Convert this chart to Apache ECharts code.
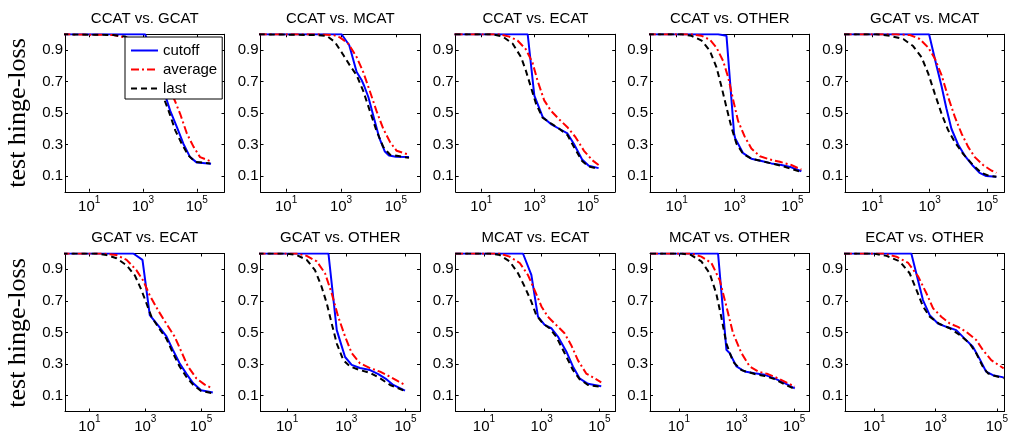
<!DOCTYPE html>
<html><head><meta charset="utf-8">
<script src="https://cdn.jsdelivr.net/npm/echarts@6/dist/echarts.min.js"></script>
<style>html,body{margin:0;padding:0;background:#fff}#c{width:1015px;height:438px}</style>
</head><body><div id="c"></div>
<script>
// ---------------- data ----------------
const panelTitles = ['CCAT vs. GCAT','CCAT vs. MCAT','CCAT vs. ECAT','CCAT vs. OTHER','GCAT vs. MCAT',
                     'GCAT vs. ECAT','GCAT vs. OTHER','MCAT vs. ECAT','MCAT vs. OTHER','ECAT vs. OTHER'];
const seriesNames = ['cutoff','average','last'];
const xTickValues = [10, 1000, 100000];
const yTickValues = [0.1, 0.3, 0.5, 0.7, 0.9];
const yAxisTitle = 'test hinge-loss';
// x-axis extents of each panel (number of examples)
const xRanges = [[1.26,1.07e6],[1.16,7.6e5],[1.1,1.05e6],[1.19,3.89e5],[1.114,4.07e5],
                 [1.33,6.9e5],[1.26,3.09e5],[1.05,3.5e5],[1,3.4e5],[1.086,1.78e5]];

// [examples, test hinge-loss]
const CCAT_GCAT_cutoff  = [[1,1],[1200,1],[2240,0.88],[3980,0.73],[7080,0.6],[10200,0.515],[18200,0.41],[31600,0.305],[56200,0.22],[100000,0.185],[339000,0.178]];
const CCAT_GCAT_average = [[1,1],[80,0.995],[219,0.98],[631,0.965],[1580,0.92],[3980,0.8],[7940,0.69],[13500,0.6],[24000,0.495],[42700,0.37],[75900,0.285],[132000,0.22],[363000,0.19]];
const CCAT_GCAT_last    = [[1,1],[79,0.995],[219,0.985],[631,0.93],[1580,0.8],[3160,0.68],[5750,0.6],[8910,0.515],[15800,0.39],[27500,0.305],[49000,0.23],[87100,0.19],[316000,0.18]];

const CCAT_MCAT_cutoff  = [[1,1],[1050,1],[2000,0.93],[3720,0.76],[5620,0.71],[7080,0.67],[10000,0.6],[15800,0.47],[25100,0.34],[39800,0.255],[56200,0.23],[100000,0.222],[302000,0.22]];
const CCAT_MCAT_average = [[1,1],[170,1],[525,0.995],[912,0.98],[1860,0.94],[3720,0.855],[6460,0.76],[11200,0.64],[19500,0.515],[34700,0.4],[61700,0.315],[107000,0.26],[302000,0.235]];
const CCAT_MCAT_last    = [[1,1],[129,0.995],[302,0.99],[603,0.95],[1200,0.87],[2140,0.8],[3720,0.74],[6460,0.64],[11200,0.515],[19500,0.39],[34700,0.285],[61700,0.235],[141000,0.225],[302000,0.215]];

const CCAT_ECAT_cutoff  = [[1,1],[550,1],[977,0.61],[2000,0.475],[4070,0.43],[8320,0.4],[17000,0.37],[29500,0.305],[60300,0.205],[107000,0.165],[251000,0.15]];
const CCAT_ECAT_average = [[1,1],[47.9,1],[112,0.985],[229,0.96],[468,0.905],[832,0.82],[1290,0.705],[2290,0.58],[4070,0.515],[8320,0.46],[17000,0.41],[34700,0.345],[70800,0.26],[145000,0.2],[251000,0.17]];
const CCAT_ECAT_last    = [[1,1],[26.9,1],[64.6,0.985],[151,0.94],[309,0.855],[468,0.77],[724,0.665],[1120,0.56],[2000,0.47],[4070,0.435],[8320,0.4],[17000,0.36],[29500,0.285],[60300,0.195],[107000,0.16],[251000,0.145]];

const CCAT_OTHER_cutoff  = [[1,1],[269,1],[525,0.99],[960,0.37],[1045,0.34],[1972,0.245],[3802,0.21],[8511,0.195],[18620,0.18],[41590,0.17],[91200,0.155],[203700,0.13]];
const CCAT_OTHER_average = [[1,1],[32.4,1],[72.4,0.99],[140,0.965],[237,0.915],[403,0.83],[603,0.725],[902,0.58],[1318,0.45],[2239,0.35],[3802,0.275],[7482,0.225],[16410,0.205],[36640,0.19],[91200,0.17],[203700,0.14]];
const CCAT_OTHER_last    = [[1,1],[14.8,1],[32.4,0.99],[72.4,0.96],[140,0.895],[237,0.79],[355,0.665],[525,0.535],[776,0.41],[1161,0.305],[1972,0.24],[3802,0.21],[8511,0.195],[18620,0.18],[41590,0.165],[91200,0.145],[203700,0.125]];

const GCAT_MCAT_cutoff  = [[1,1],[953,1],[1730,0.8],[2600,0.67],[3819,0.53],[5728,0.4],[9772,0.3],[16670,0.23],[32280,0.165],[55080,0.12],[93980,0.1],[211800,0.095]];
const GCAT_MCAT_average = [[1,1],[70.3,1],[205,0.995],[451,0.97],[893,0.915],[1524,0.845],[2600,0.74],[4426,0.6],[7551,0.475],[12880,0.37],[21980,0.285],[37500,0.22],[72780,0.17],[140900,0.135],[211800,0.12]];
const GCAT_MCAT_last    = [[1,1],[14.2,1],[41.2,0.99],[120,0.97],[264,0.925],[518,0.855],[893,0.75],[1524,0.62],[2600,0.495],[4426,0.39],[7551,0.315],[14660,0.24],[32280,0.17],[63970,0.12],[124200,0.1],[211800,0.095]];

const GCAT_ECAT_cutoff  = [[1,1],[372,1],[794,0.96],[1450,0.61],[2880,0.545],[5750,0.475],[9770,0.39],[17000,0.305],[29500,0.24],[51300,0.18],[100000,0.135],[263000,0.12]];
const GCAT_ECAT_average = [[1,1],[30.9,1],[93.3,0.99],[214,0.96],[479,0.895],[832,0.83],[1450,0.735],[2880,0.64],[5750,0.555],[11200,0.475],[19500,0.38],[33900,0.285],[67600,0.21],[135000,0.17],[263000,0.145]];
const GCAT_ECAT_last    = [[1,1],[18.2,1],[40.7,0.99],[93.3,0.97],[214,0.925],[427,0.86],[724,0.77],[1100,0.685],[1660,0.6],[2880,0.535],[5750,0.46],[9770,0.37],[17000,0.285],[29500,0.22],[51300,0.17],[100000,0.13],[263000,0.115]];

const GCAT_OTHER_cutoff  = [[1,1],[249,1],[476,0.515],[608,0.45],[908,0.345],[1517,0.295],[2897,0.275],[6324,0.262],[12080,0.237],[23070,0.203],[38550,0.168],[96160,0.132]];
const GCAT_OTHER_average = [[1,1],[20.9,1],[45.8,0.985],[100,0.95],[191,0.875],[318,0.75],[532,0.6],[908,0.475],[1517,0.37],[2897,0.305],[6324,0.275],[13800,0.252],[30130,0.22],[57540,0.19],[96160,0.168]];
const GCAT_OTHER_last    = [[1,1],[9.6,1],[20.9,0.99],[45.8,0.96],[87.3,0.895],[146,0.79],[218,0.685],[318,0.56],[476,0.43],[794,0.325],[1327,0.285],[2897,0.262],[6324,0.245],[13800,0.21],[30130,0.168],[96160,0.13]];

const MCAT_ECAT_cutoff  = [[1,1],[224,1],[437,0.865],[741,0.6],[1260,0.548],[2140,0.527],[3630,0.474],[7080,0.38],[12000,0.285],[20400,0.21],[39800,0.175],[115000,0.16]];
const MCAT_ECAT_average = [[1,1],[35.5,1],[77.6,0.98],[174,0.94],[331,0.865],[562,0.77],[977,0.665],[1620,0.6],[3160,0.548],[6170,0.495],[10500,0.42],[17800,0.325],[34700,0.24],[67600,0.21],[115000,0.185]];
const MCAT_ECAT_last    = [[1,1],[15.8,1],[35.5,0.99],[77.6,0.95],[151,0.875],[257,0.79],[437,0.695],[646,0.61],[1100,0.557],[1860,0.527],[3160,0.474],[6170,0.37],[12000,0.263],[20400,0.205],[39800,0.168],[115000,0.155]];

const MCAT_OTHER_cutoff  = [[1,1],[229,1],[447,0.39],[575,0.37],[1000,0.285],[1910,0.253],[4270,0.242],[9550,0.232],[20900,0.21],[46800,0.18],[105000,0.147]];
const MCAT_OTHER_average = [[1,1],[26.9,1],[60.3,0.98],[135,0.94],[263,0.83],[447,0.665],[759,0.495],[1480,0.37],[2880,0.285],[5620,0.253],[12300,0.237],[27500,0.21],[61700,0.178],[105000,0.158]];
const MCAT_OTHER_last    = [[1,1],[12.3,1],[26.9,0.99],[60.3,0.95],[117,0.875],[200,0.745],[295,0.6],[447,0.43],[759,0.315],[1480,0.262],[4270,0.237],[9550,0.225],[20900,0.205],[46800,0.172],[105000,0.142]];

const ECAT_OTHER_cutoff  = [[1,1],[160,1],[384,0.705],[638,0.61],[1183,0.557],[2239,0.536],[4710,0.515],[8710,0.463],[16480,0.41],[26850,0.336],[44770,0.252],[74470,0.23],[167100,0.216]];
const ECAT_OTHER_average = [[1,1],[19.2,1],[52,0.98],[127,0.94],[267,0.855],[494,0.75],[824,0.653],[1524,0.6],[2884,0.557],[5346,0.536],[9908,0.505],[21280,0.452],[34670,0.39],[65610,0.325],[167100,0.273]];
const ECAT_OTHER_last    = [[1,1],[9.1,1],[24.7,0.985],[67.1,0.95],[141,0.875],[235,0.77],[384,0.665],[638,0.6],[1343,0.554],[2884,0.527],[6067,0.485],[12760,0.432],[21280,0.368],[34670,0.284],[50820,0.242],[82790,0.226],[167100,0.21]];

const panelData = [
  [CCAT_GCAT_cutoff, CCAT_GCAT_average, CCAT_GCAT_last],
  [CCAT_MCAT_cutoff, CCAT_MCAT_average, CCAT_MCAT_last],
  [CCAT_ECAT_cutoff, CCAT_ECAT_average, CCAT_ECAT_last],
  [CCAT_OTHER_cutoff, CCAT_OTHER_average, CCAT_OTHER_last],
  [GCAT_MCAT_cutoff, GCAT_MCAT_average, GCAT_MCAT_last],
  [GCAT_ECAT_cutoff, GCAT_ECAT_average, GCAT_ECAT_last],
  [GCAT_OTHER_cutoff, GCAT_OTHER_average, GCAT_OTHER_last],
  [MCAT_ECAT_cutoff, MCAT_ECAT_average, MCAT_ECAT_last],
  [MCAT_OTHER_cutoff, MCAT_OTHER_average, MCAT_OTHER_last],
  [ECAT_OTHER_cutoff, ECAT_OTHER_average, ECAT_OTHER_last]
];

// ---------------- layout & style ----------------
const FONT = "'Liberation Sans', Arial, Helvetica, sans-serif";
const SERIF = "'Liberation Serif', 'Times New Roman', serif";
const colLeft = [65, 260.5, 455.7, 650, 845];
const rowTop = [34.25, 253.5];
const rowH = [157.5, 158];
const panelW = 159.5;
const titleY = [11, 230.5];
const lineStyles = [
  {color:'#0000ff', width:2, type:'solid'},
  {color:'#ff0000', width:2, type:[8,3,2,3]},
  {color:'#000000', width:2, type:[6,4]}
];

const grids = [], xAxes = [], yAxes = [], series = [], titles = [];
const supFormatter = v => '{b|10}{s|' + Math.round(Math.log10(v)) + '}';
for (let i = 0; i < 10; i++) {
  const r = Math.floor(i / 5), c = i % 5;
  grids.push({left: colLeft[c], top: rowTop[r], width: panelW, height: rowH[r], containLabel: false});
  titles.push({text: panelTitles[i], left: colLeft[c] + panelW / 2, top: titleY[r], textAlign: 'center', padding: 0,
    textStyle: {fontFamily: FONT, fontSize: 15, fontWeight: 'normal', color: '#000'}});
  const axLine = {show: true, onZero: false, lineStyle: {color: '#000', width: 1}};
  const [xmin, xmax] = xRanges[i];
  xAxes.push({type: 'log', logBase: 10, gridIndex: i, position: 'bottom', min: xmin, max: xmax,
    axisLine: axLine, splitLine: {show: false},
    axisTick: {show: true, inside: true, length: 3, customValues: xTickValues, lineStyle: {color: '#000'}},
    axisLabel: {show: true, customValues: xTickValues, margin: 3, formatter: supFormatter, color: '#000',
      rich: {b: {fontFamily: FONT, fontSize: 15, color: '#000', verticalAlign: 'bottom', lineHeight: 20},
             s: {fontFamily: FONT, fontSize: 10, color: '#000', verticalAlign: 'top', lineHeight: 12}}}});
  xAxes.push({type: 'log', logBase: 10, gridIndex: i, position: 'top', min: xmin, max: xmax,
    axisLine: axLine, splitLine: {show: false},
    axisTick: {show: true, inside: true, length: 3, customValues: xTickValues, lineStyle: {color: '#000'}},
    axisLabel: {show: false}});
  yAxes.push({type: 'value', gridIndex: i, position: 'left', min: 0, max: 1,
    axisLine: axLine, splitLine: {show: false},
    axisTick: {show: true, inside: true, length: 3, customValues: yTickValues, lineStyle: {color: '#000'}},
    axisLabel: {show: true, customValues: yTickValues, margin: 2, formatter: v => v.toFixed(1),
      fontFamily: FONT, fontSize: 15, color: '#000'}});
  yAxes.push({type: 'value', gridIndex: i, position: 'right', min: 0, max: 1,
    axisLine: axLine, splitLine: {show: false},
    axisTick: {show: true, inside: true, length: 3, customValues: yTickValues, lineStyle: {color: '#000'}},
    axisLabel: {show: false}});
  for (let s = 0; s < 3; s++) {
    series.push({type: 'line', name: seriesNames[s], xAxisIndex: 2 * i, yAxisIndex: 2 * i,
      data: panelData[i][s], symbol: 'none', showSymbol: false, smooth: false, clip: true,
      lineStyle: lineStyles[s], itemStyle: {color: lineStyles[s].color}, z: 2 + s, animation: false});
  }
}

const chart = echarts.init(document.getElementById('c'), null, {renderer: 'canvas'});
chart.setOption({
  backgroundColor: '#ffffff',
  animation: false,
  title: titles,
  grid: grids,
  xAxis: xAxes,
  yAxis: yAxes,
  series: series,
  legend: {data: seriesNames, orient: 'vertical', left: 125, top: 37, itemWidth: 27, itemHeight: 14, itemGap: 4,
    padding: [6, 5, 3, 5], backgroundColor: '#fff', borderColor: '#000', borderWidth: 1, borderRadius: 0,
    selectedMode: false, itemStyle: {opacity: 0, borderWidth: 0},
    textStyle: {fontFamily: FONT, fontSize: 15, color: '#000'}, z: 10},
  graphic: [
    {type: 'text', x: 18, y: 113, rotation: Math.PI / 2,
      style: {text: yAxisTitle, font: '26px ' + SERIF, fill: '#000', align: 'center', verticalAlign: 'middle'}},
    {type: 'text', x: 18, y: 333, rotation: Math.PI / 2,
      style: {text: yAxisTitle, font: '26px ' + SERIF, fill: '#000', align: 'center', verticalAlign: 'middle'}}
  ]
});
</script></body></html>
